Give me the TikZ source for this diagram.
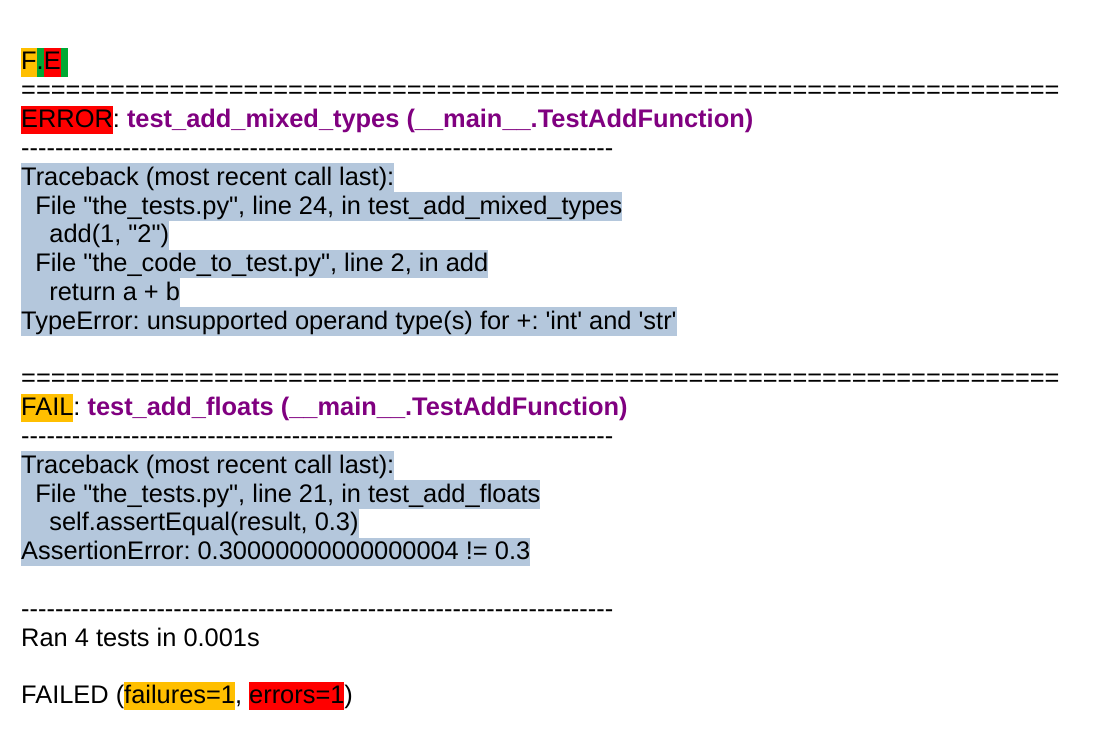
\documentclass[tikz,border=0pt]{standalone}
\usepackage{fontspec}
\setmainfont{Liberation Sans}[Ligatures=TeXOff]
\definecolor{hOr}{HTML}{FFBF00}
\definecolor{hGr}{HTML}{00A933}
\definecolor{hRd}{HTML}{FF0000}
\definecolor{hBl}{HTML}{B4C7DC}
\definecolor{tPu}{HTML}{800080}
\newcommand\hl[2]{{\setlength\fboxsep{0pt}\colorbox{#1}{\rule[-6.8pt]{0pt}{28.8pt}#2}}}
\newcommand\tn[1]{\textcolor{tPu}{\bfseries #1}}
\newcommand\sq{\textquotesingle}
\begin{document}
\frenchspacing
\begin{tikzpicture}[x=1pt,y=1pt,
  row/.style={anchor=base west,inner sep=0pt,font=\fontsize{25.4pt}{28.8pt}\selectfont\frenchspacing}]
\useasboundingbox[fill=white] (0,0) rectangle (1111,-749);
\node[row] (r0) at (21,{-(70+28.8*0)}) {\hl{hOr}{F}\hl{hGr}{.}\hl{hRd}{E}\hl{hGr}{\hspace*{7pt}}};
\node[row] (r1) at (21,{-(70+28.8*1)}) {======================================================================};
\node[row] (r2) at (21,{-(70+28.8*2)}) {\hl{hRd}{ERROR}: \tn{test\_add\_mixed\_types (\_\_main\_\_.TestAddFunction)}};
\node[row] (r3) at (21,{-(70+28.8*3)}) {----------------------------------------------------------------------};
\node[row] (r4) at (21,{-(70+28.8*4)}) {\hl{hBl}{Traceback (most recent call last):}};
\node[row] (r5) at (21,{-(70+28.8*5)}) {\hl{hBl}{\hspace*{14.1pt}File "the\_tests.py", line 24, in test\_add\_mixed\_types}};
\node[row] (r6) at (21,{-(70+28.8*6)}) {\hl{hBl}{\hspace*{28.2pt}add(1, "2")}};
\node[row] (r7) at (21,{-(70+28.8*7)}) {\hl{hBl}{\hspace*{14.1pt}File "the\_code\_to\_test.py", line 2, in add}};
\node[row] (r8) at (21,{-(70+28.8*8)}) {\hl{hBl}{\hspace*{28.2pt}return a + b}};
\node[row] (r9) at (21,{-(70+28.8*9)}) {\hl{hBl}{TypeError: unsupported operand type(s) for +: \sq int\sq{} and \sq str\sq}};
\node[row] (r11) at (21,{-(70+28.8*11)}) {======================================================================};
\node[row] (r12) at (21,{-(70+28.8*12)}) {\hl{hOr}{FAIL}: \tn{test\_add\_floats (\_\_main\_\_.TestAddFunction)}};
\node[row] (r13) at (21,{-(70+28.8*13)}) {----------------------------------------------------------------------};
\node[row] (r14) at (21,{-(70+28.8*14)}) {\hl{hBl}{Traceback (most recent call last):}};
\node[row] (r15) at (21,{-(70+28.8*15)}) {\hl{hBl}{\hspace*{14.1pt}File "the\_tests.py", line 21, in test\_add\_floats}};
\node[row] (r16) at (21,{-(70+28.8*16)}) {\hl{hBl}{\hspace*{28.2pt}self.assertEqual(result, 0.3)}};
\node[row] (r17) at (21,{-(70+28.8*17)}) {\hl{hBl}{AssertionError: 0.30000000000000004 != 0.3}};
\node[row] (r19) at (21,{-(70+28.8*19)}) {----------------------------------------------------------------------};
\node[row] (r20) at (21,{-(70+28.8*20)}) {Ran 4 tests in 0.001s};
\node[row] (r22) at (21,{-(70+28.8*22)}) {FAILED (\hl{hOr}{failures=1}, \hl{hRd}{errors=1})};
\end{tikzpicture}
\end{document}
